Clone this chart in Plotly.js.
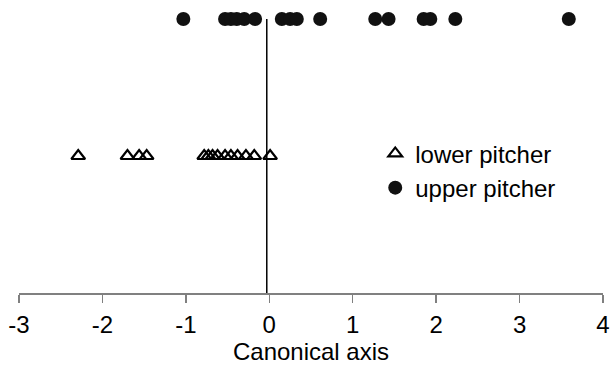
<!DOCTYPE html>
<html><head><meta charset="utf-8">
<script src="https://cdn.plot.ly/plotly-3.0.1.min.js"></script>
<style>html,body{margin:0;padding:0;background:#fff}#chart{width:610px;height:366px}</style>
</head><body><div id="chart"></div>
<script>
const lowerScores = [-2.29, -1.70, -1.56, -1.47, -0.78, -0.73, -0.68, -0.62, -0.53, -0.46, -0.38, -0.28, -0.18, 0.01];
const upperScores = [-1.03, -0.53, -0.46, -0.39, -0.30, -0.17, 0.15, 0.25, 0.33, 0.61, 1.27, 1.43, 1.85, 1.93, 2.23, 3.59];
const lowerLevel = 1;
const upperLevel = 2;
const seriesNames = ['lower pitcher', 'upper pitcher'];
const xTicks = [-3, -2, -1, 0, 1, 2, 3, 4];

const traces = [
  {x: lowerScores, y: lowerScores.map(() => lowerLevel), type: 'scatter', mode: 'markers', name: seriesNames[0],
   marker: {symbol: 'triangle-up-open', size: 12, color: '#000', line: {width: 2.2, color: '#000'}}, cliponaxis: false},
  {x: upperScores, y: upperScores.map(() => upperLevel), type: 'scatter', mode: 'markers', name: seriesNames[1],
   marker: {symbol: 'circle', size: 14, color: '#111'}, cliponaxis: false}
];

const layout = {
  width: 610, height: 366,
  margin: {l: 19, r: 7, t: 19, b: 73},
  paper_bgcolor: '#fff', plot_bgcolor: '#fff',
  font: {family: 'Liberation Sans, Arial, sans-serif', size: 24, color: '#000'},
  showlegend: true,
  legend: {x: 0.61, y: 0.59, xanchor: 'left', yanchor: 'top', bgcolor: 'rgba(0,0,0,0)',
           font: {size: 24, color: '#000'}, tracegroupgap: 0, itemwidth: 30},
  xaxis: {range: [-3, 4], tickvals: xTicks, ticktext: xTicks.map(String), showgrid: false, zeroline: false,
          showline: true, linecolor: '#808080', linewidth: 1.5, ticks: 'outside', ticklen: 8, tickwidth: 1.5,
          tickcolor: '#808080', tickfont: {size: 24, color: '#000'}, ticklabelstandoff: 2,
          title: {text: 'Canonical axis', font: {size: 24, color: '#000'}, standoff: 0}},
  yaxis: {range: [0, 2], visible: false, showgrid: false, zeroline: false, fixedrange: true},
  shapes: [{type: 'line', xref: 'x', yref: 'y', x0: -0.03, x1: -0.03, y0: 0, y1: upperLevel, line: {color: '#000', width: 1.5}, layer: 'below'}]
};

Plotly.newPlot('chart', traces, layout, {displayModeBar: false, staticPlot: true});
</script></body></html>
